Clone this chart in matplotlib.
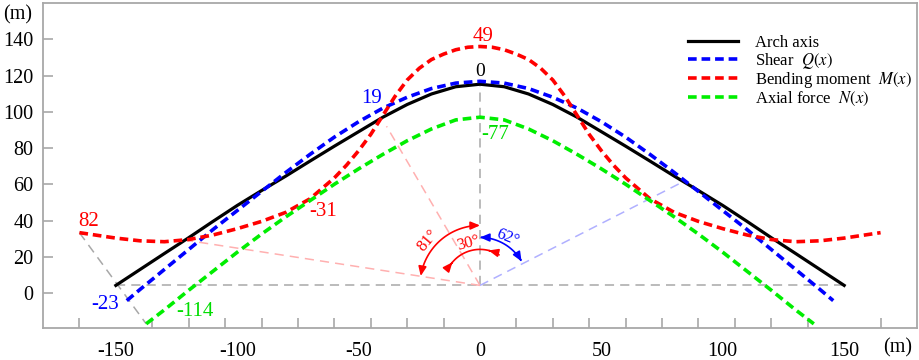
import matplotlib.pyplot as plt
import numpy as np
from matplotlib.patches import FancyArrowPatch
from matplotlib.path import Path

plt.rcParams['font.family'] = ['Liberation Serif', 'DejaVu Serif']
plt.rcParams['mathtext.fontset'] = 'stix'
plt.rcParams['axes.unicode_minus'] = False

# curves (m)
arch_x = [-150, -140, -130, -120, -110, -100, -90, -80, -70, -60, -50, -40, -30, -20, -10, 0,
          10, 20, 30, 40, 50, 60, 70, 80, 90, 100, 110, 120, 130, 140, 150]
arch_y = [4.2, 13, 21.8, 30.5, 39.5, 48.3, 56.5, 64.5, 72.8, 81, 89, 97, 104, 109.8, 113.8, 115.2,
          113.8, 109.8, 104, 97, 89, 81, 72.8, 64.5, 56.5, 48.3, 39.5, 30.5, 21.8, 13, 4.2]

shear_x = [-145.5, -140, -130, -120, -110, -100, -90, -80, -70, -60, -50, -40, -30, -20, -10, 0,
           10, 20, 30, 40, 50, 60, 70, 80, 90, 100, 110, 120, 130, 140, 145.5]
shear_y = [-4.2, 2, 13, 24, 35, 45.5, 56, 66.5, 76.5, 86, 94.5, 102, 108, 112.8, 115.8, 116.8,
           115.8, 112.8, 108, 102, 94.5, 86, 76.5, 66.5, 56, 45.5, 35, 24, 13, 2, -4.2]

moment_x = [-165, -160, -150, -140, -130, -120, -110, -100, -90, -80, -70, -60, -55, -50, -45, -40,
            -35, -30, -25, -20, -15, -10, -5, 0, 5, 10, 15, 20, 25, 30, 35, 40, 45, 50, 55,
            60, 70, 80, 90, 100, 110, 120, 130, 140, 150, 160, 165]
moment_y = [33.3, 32.3, 30.3, 28.8, 28.3, 29.5, 32, 35.5, 39.5, 44.5, 52, 63.5, 70.5, 78.5, 87.5, 98,
            108.5, 117.5, 124, 128.8, 131.8, 134.2, 135.6, 136, 135.6, 134.2, 131.8, 128.8, 124, 117.5,
            108.5, 98, 87.5, 78.5, 70.5, 63.5, 52, 44.5, 39.5, 35.5, 32, 29.5, 28.3, 28.8, 30.3, 32.3, 33.3]

axial_x = [-137.5, -130, -120, -110, -100, -90, -80, -70, -60, -50, -40, -30, -20, -10, 0,
           10, 20, 30, 40, 50, 60, 70, 80, 90, 100, 110, 120, 130, 137.5]
axial_y = [-17, -9.3, 1.5, 12, 22.5, 32.5, 42, 51, 60, 68.5, 76.5, 84, 90.5, 95.5, 97,
           95.5, 90.5, 84, 76.5, 68.5, 60, 51, 42, 32.5, 22.5, 12, 1.5, -9.3, -17]

legend_labels = ['Arch axis', r'Shear  $Q(x)$', r'Bending moment  $M(x)$', r'Axial force  $N(x)$']

# value labels: text, x, y
shear_notes = [('19', -44.6, 107.5), ('-23', -154.5, -6.6)]
moment_notes = [('49', 1.4, 141.5), ('82', -161.4, 39.4), ('-31', -64.6, 44.9)]
axial_notes = [('-77', 0.7, 87.2), ('-114', -117.4, -10.3)]

# guide lines from the springing level centre
origin = (0, 4.2)
pink_ends = [(-38.5, 92), (-122, 29.3)]
blue_end = (83.8, 61.5)

xticks = [-150, -100, -50, 0, 50, 100, 150]
yticks = [0, 20, 40, 60, 80, 100, 120, 140]

fig = plt.figure(figsize=(9.2, 3.6), dpi=100)
ax = fig.add_axes([43 / 920, 32 / 360, 874 / 920, 325 / 360])
ax.set_xlim(-180, 180)
ax.set_ylim(-19.3, 160)
sx = 874 / 360
sy = 325 / 179.3

grey = '#a8a8a8'
dash = (0, (2.4, 1.35))
thin = (0, (6, 4))

# guide lines
ax.plot([arch_x[0], arch_x[-1]], [origin[1], origin[1]], color=grey, lw=1.1, ls=thin, zorder=1)
ax.plot([0, 0], [origin[1], arch_y[15]], color=grey, lw=1.1, ls=thin, zorder=1)
ax.plot([moment_x[0], axial_x[0]], [moment_y[0], axial_y[0]], color=grey, lw=1.1, ls=thin, zorder=1)
for px, py in pink_ends:
    ax.plot([origin[0], px], [origin[1], py], color='#ffb0b0', lw=1.1, ls=thin, zorder=1)
ax.plot([origin[0], blue_end[0]], [origin[1], blue_end[1]], color='#b0b0ff', lw=1.1, ls=thin, zorder=1)

# curves
ax.plot(arch_x, arch_y, color='black', lw=2.3, label=legend_labels[0], zorder=3)
ax.plot(shear_x, shear_y, color='#0000ff', lw=2.6, ls=dash, label=legend_labels[1], zorder=4)
ax.plot(moment_x, moment_y, color='#ff0000', lw=2.6, ls=dash, label=legend_labels[2], zorder=4)
ax.plot(axial_x, axial_y, color='#00ee00', lw=2.6, ls=dash, label=legend_labels[3], zorder=4)


def arc(r, a1, a2, n=40):
    a = np.radians(np.linspace(a1, a2, n))
    return Path(np.column_stack([r * np.sin(a) / sx, origin[1] + r * np.cos(a) / sy]))


def arrow(path, style, color):
    ax.add_patch(FancyArrowPatch(path=path, arrowstyle=style, mutation_scale=8,
                                 color=color, lw=1.2, zorder=5))


head = ',head_length=0.7,head_width=0.3'
arrow(arc(60, -81, 0), '<|-|>' + head, 'red')
arrow(arc(48, 0, 60), '<|-|>' + head, 'blue')
arrow(arc(36, -65, -50), '-|>' + head, 'red')
arrow(arc(36, 32, 14), '-|>' + head, 'red')
arrow(arc(36, -50, 14), '-', 'red')

ax.text((428 - 480) / sx, (293 - 240) / sy, '81°', color='red', fontsize=12,
        rotation=50, ha='center', va='center')
ax.text((468 - 480) / sx, (293 - 243) / sy, '30°', color='red', fontsize=12,
        rotation=15, ha='center', va='center')
ax.text((508 - 480) / sx, (293 - 238) / sy, '62°', color='blue', fontsize=12,
        rotation=-22, ha='center', va='center')

# value labels
for t, x, y in shear_notes:
    ax.text(x, y, t, color='#0000ff', fontsize=15, ha='center', va='center')
for t, x, y in moment_notes:
    ax.text(x, y, t, color='#ff0000', fontsize=15, ha='center', va='center')
for i, (t, x, y) in enumerate(axial_notes):
    ax.text(x, y, t, color='#00dd00', fontsize=15, ha='left' if i == 0 else 'center', va='center')
ax.text(0, 122.2, '0', color='black', fontsize=14, ha='center', va='center')

# axes styling
for s in ax.spines.values():
    s.set_color(grey)
    s.set_linewidth(1.3)
ax.set_xticks(xticks)
ax.set_xticks(np.arange(-165, 166, 15), minor=True)
ax.set_yticks(yticks)
ax.tick_params(axis='x', which='major', length=0, pad=10, labelsize=14.5)
ax.tick_params(axis='x', which='minor', direction='in', length=7, color=grey, width=1.2)
ax.tick_params(axis='y', direction='in', length=7, color=grey, width=1.2, pad=7, labelsize=14.5)

fig.text(18 / 920, 1 - 15 / 360, '(m)', fontsize=14.5, ha='center', va='center')
fig.text(898 / 920, 1 - 348 / 360, '(m)', fontsize=14.5, ha='center', va='center')

ax.legend(loc='upper left', bbox_to_anchor=(688 / 920, 1 - 35 / 360), bbox_transform=fig.transFigure,
          frameon=False, fontsize=12, handlelength=3.0, handletextpad=1.0, labelspacing=-0.02,
          borderpad=0, borderaxespad=0)

fig.savefig('out.png', dpi=100)
